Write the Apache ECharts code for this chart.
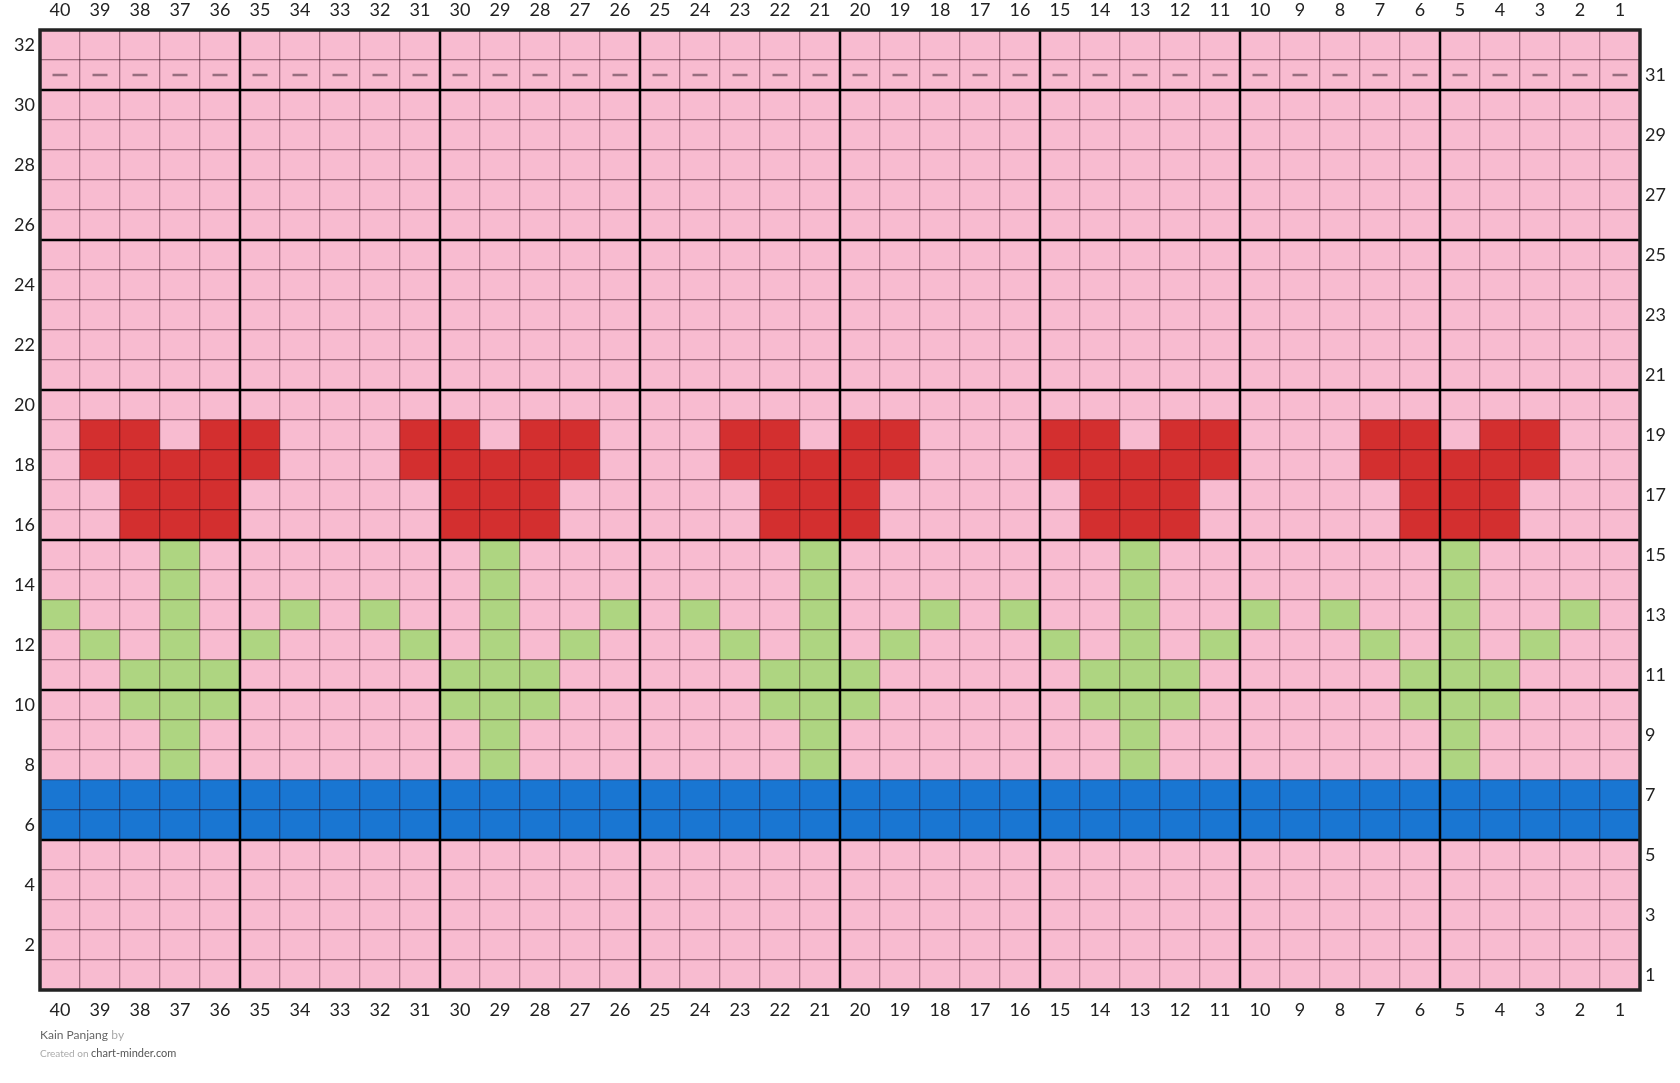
<!DOCTYPE html>
<html>
<head>
<meta charset="utf-8">
<title>Kain Panjang</title>
<script src="https://cdn.jsdelivr.net/npm/echarts@6/dist/echarts.min.js"></script>
<style>
  html, body { margin: 0; padding: 0; background: #fff; }
  #main { width: 1680px; height: 1083px; }
</style>
</head>
<body>
<div id="main"></div>
<script>
// column labels, left to right
var colLabels = ['40','39','38','37','36','35','34','33','32','31',
                 '30','29','28','27','26','25','24','23','22','21',
                 '20','19','18','17','16','15','14','13','12','11',
                 '10','9','8','7','6','5','4','3','2','1'];
// row labels, bottom to top
var rowLabels = ['1','2','3','4','5','6','7','8','9','10',
                 '11','12','13','14','15','16','17','18','19','20',
                 '21','22','23','24','25','26','27','28','29','30',
                 '31','32'];

// pattern, top row (32) first; p pink, d pink + purl dash, r red, g green, b blue
var patternRows = [
  'pppppppppppppppppppppppppppppppppppppppp', // 32
  'dddddddddddddddddddddddddddddddddddddddd', // 31
  'pppppppppppppppppppppppppppppppppppppppp', // 30
  'pppppppppppppppppppppppppppppppppppppppp', // 29
  'pppppppppppppppppppppppppppppppppppppppp', // 28
  'pppppppppppppppppppppppppppppppppppppppp', // 27
  'pppppppppppppppppppppppppppppppppppppppp', // 26
  'pppppppppppppppppppppppppppppppppppppppp', // 25
  'pppppppppppppppppppppppppppppppppppppppp', // 24
  'pppppppppppppppppppppppppppppppppppppppp', // 23
  'pppppppppppppppppppppppppppppppppppppppp', // 22
  'pppppppppppppppppppppppppppppppppppppppp', // 21
  'pppppppppppppppppppppppppppppppppppppppp', // 20
  'prrprrppprrprrppprrprrppprrprrppprrprrpp', // 19
  'prrrrrppprrrrrppprrrrrppprrrrrppprrrrrpp', // 18
  'pprrrppppprrrppppprrrppppprrrppppprrrppp', // 17
  'pprrrppppprrrppppprrrppppprrrppppprrrppp', // 16
  'pppgpppppppgpppppppgpppppppgpppppppgpppp', // 15
  'pppgpppppppgpppppppgpppppppgpppppppgpppp', // 14
  'gppgppgpgppgppgpgppgppgpgppgppgpgppgppgp', // 13
  'pgpgpgpppgpgpgpppgpgpgpppgpgpgpppgpgpgpp', // 12
  'ppgggpppppgggpppppgggpppppgggpppppgggppp', // 11
  'ppgggpppppgggpppppgggpppppgggpppppgggppp', // 10
  'pppgpppppppgpppppppgpppppppgpppppppgpppp', // 9
  'pppgpppppppgpppppppgpppppppgpppppppgpppp', // 8
  'bbbbbbbbbbbbbbbbbbbbbbbbbbbbbbbbbbbbbbbb', // 7
  'bbbbbbbbbbbbbbbbbbbbbbbbbbbbbbbbbbbbbbbb', // 6
  'pppppppppppppppppppppppppppppppppppppppp', // 5
  'pppppppppppppppppppppppppppppppppppppppp', // 4
  'pppppppppppppppppppppppppppppppppppppppp', // 3
  'pppppppppppppppppppppppppppppppppppppppp', // 2
  'pppppppppppppppppppppppppppppppppppppppp'  // 1
];

var palette = { p: '#F8BBD0', d: '#F8BBD0', r: '#D32F2F', g: '#AED581', b: '#1976D2' };

// thick guide lines: left edge of these columns, bottom edge of these rows
var majorColLines = ['35','30','25','20','15','10','5'];
var majorRowLines = ['6','11','16','21','26','31'];

var cells = [];
var dashes = [];
patternRows.forEach(function (row, i) {
  var r = rowLabels.length - 1 - i;
  for (var j = 0; j < row.length; j++) {
    var ch = row.charAt(j);
    cells.push({ value: [j, r, 1], itemStyle: { color: palette[ch] } });
    if (ch === 'd') dashes.push([j, r]);
  }
});

var myChart = echarts.init(document.getElementById('main'));

var labelFont = { fontFamily: 'Lato', fontSize: 18, color: '#222' };

myChart.setOption({
  animation: false,
  backgroundColor: '#fff',
  grid: { left: 40, top: 30, width: 1600, height: 960 },
  xAxis: [
    {
      type: 'category', data: colLabels, position: 'top',
      axisLine: { show: false }, axisTick: { show: false }, splitLine: { show: false },
      axisLabel: Object.assign({ interval: 0, margin: 11 }, labelFont)
    },
    {
      type: 'category', data: colLabels, position: 'bottom',
      axisLine: { show: false }, axisTick: { show: false }, splitLine: { show: false },
      axisLabel: Object.assign({ interval: 0, margin: 11 }, labelFont)
    }
  ],
  yAxis: [
    {
      type: 'category', data: rowLabels, position: 'left',
      axisLine: { show: false }, axisTick: { show: false }, splitLine: { show: false },
      axisLabel: Object.assign({
        margin: 5,
        interval: function (idx, val) { return Number(val) % 2 === 0; }
      }, labelFont)
    },
    {
      type: 'category', data: rowLabels, position: 'right',
      axisLine: { show: false }, axisTick: { show: false }, splitLine: { show: false },
      axisLabel: Object.assign({
        margin: 5,
        interval: function (idx, val) { return Number(val) % 2 === 1; }
      }, labelFont)
    }
  ],
  series: [
    {
      name: 'cells',
      type: 'heatmap',
      data: cells,
      silent: true,
      emphasis: { disabled: true },
      itemStyle: { borderColor: 'rgba(40,0,15,0.5)', borderWidth: 1 }
    },
    {
      name: 'purl',
      type: 'scatter',
      data: dashes,
      silent: true,
      symbol: 'rect',
      symbolSize: [15, 2.5],
      itemStyle: { color: '#7e5a6a' },
      z: 3
    },
    {
      name: 'colLines',
      type: 'custom',
      silent: true,
      z: 4,
      data: majorColLines.map(function (c) { return [c, rowLabels[0]]; }),
      renderItem: function (params, api) {
        var p = api.coord([api.value(0), api.value(1)]);
        var w = api.size([1, 1])[0];
        var cs = params.coordSys;
        var x = p[0] - w / 2;
        return {
          type: 'line',
          shape: { x1: x, y1: cs.y, x2: x, y2: cs.y + cs.height },
          style: { stroke: '#000', lineWidth: 2.5 }
        };
      }
    },
    {
      name: 'rowLines',
      type: 'custom',
      silent: true,
      z: 4,
      data: majorRowLines.map(function (r) { return [colLabels[0], r]; }),
      renderItem: function (params, api) {
        var p = api.coord([api.value(0), api.value(1)]);
        var h = api.size([1, 1])[1];
        var cs = params.coordSys;
        var y = p[1] + h / 2;
        return {
          type: 'line',
          shape: { x1: cs.x, y1: y, x2: cs.x + cs.width, y2: y },
          style: { stroke: '#000', lineWidth: 2.5 }
        };
      }
    },
    {
      name: 'border',
      type: 'custom',
      silent: true,
      z: 5,
      data: [[colLabels[0], rowLabels[0]]],
      renderItem: function (params, api) {
        var cs = params.coordSys;
        return {
          type: 'rect',
          shape: { x: cs.x, y: cs.y, width: cs.width, height: cs.height },
          style: { fill: null, stroke: '#222', lineWidth: 3.5 }
        };
      }
    }
  ],
  graphic: [
    {
      type: 'text', left: 40, top: 1029,
      style: {
        text: '{a|Kain Panjang} {b|by}',
        rich: {
          a: { fontFamily: 'Lato', fontSize: 12, fill: '#666' },
          b: { fontFamily: 'Lato', fontSize: 12, fill: '#aaa' }
        }
      }
    },
    {
      type: 'text', left: 40, top: 1048,
      style: {
        text: '{c|Created on }{d|chart-minder.com}',
        rich: {
          c: { fontFamily: 'Lato', fontSize: 10, fill: '#aaa' },
          d: { fontFamily: 'Lato', fontSize: 11, fill: '#555' }
        }
      }
    }
  ]
});
</script>
</body>
</html>
